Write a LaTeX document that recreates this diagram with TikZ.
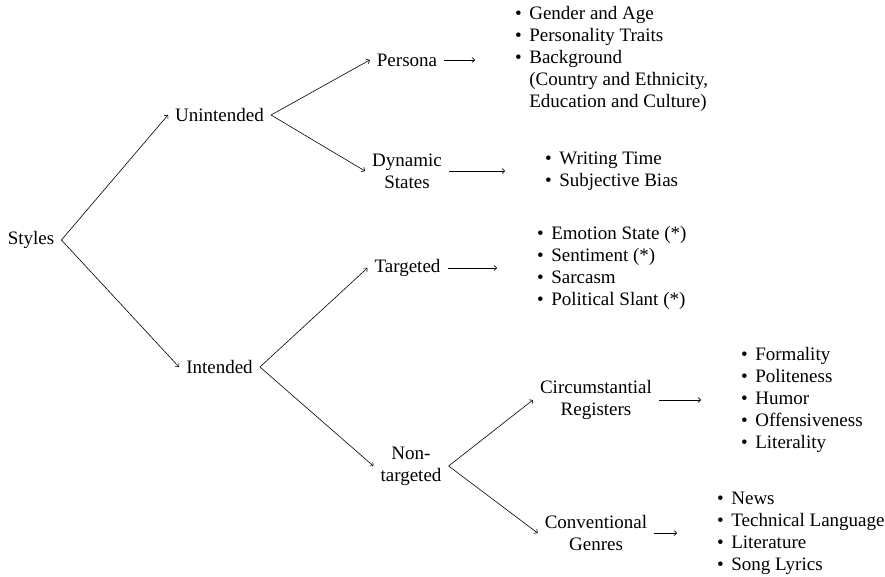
\documentclass[tikz,border=0pt]{standalone}
\usepackage{fontspec}
\setmainfont{Liberation Serif}
\usetikzlibrary{arrows.meta}
\begin{document}
\begin{tikzpicture}[x=1pt,y=-1pt,
  every node/.style={font=\fontsize{19}{22.2}\selectfont},
  cat/.style={inner xsep=7pt, inner ysep=2pt, align=center},
  lst/.style={inner sep=0pt, anchor=west},
  edge/.style={line width=0.6pt, -{To[length=3.2pt,width=5.5pt]}},
  harrow/.style={edge, shorten >=40pt}]
\useasboundingbox (0,0) rectangle (885,576);
% category nodes
\node[cat] (Styles) at (31,240) {Styles};
\node[cat] (Unint) at (219.5,115) {Unintended};
\node[cat] (Int) at (219.5,367) {Intended};
\node[cat] (Persona) at (407,60) {Persona};
\node[cat] (Dyn) at (407,171) {Dynamic\\States};
\node[cat] (Targ) at (407.5,268) {Targeted};
\node[cat] (Non) at (411,466) {Non-\\targeted};
\node[cat] (Circ) at (596,400) {Circumstantial\\Registers};
\node[cat] (Conv) at (596,533) {Conventional\\Genres};
% lists
\node[lst] (PL) at (515,59) {\begin{tabular}{@{}l@{\hspace{7.5pt}}l@{}}
\textbullet & Gender and Age\\
\textbullet & Personality Traits\\
\textbullet & Background\\
 & (Country and Ethnicity,\\
 & Education and Culture)
\end{tabular}};
\node[lst] (DL) at (545,171) {\begin{tabular}{@{}l@{\hspace{7.5pt}}l@{}}
\textbullet & Writing Time\\
\textbullet & Subjective Bias
\end{tabular}};
\node[lst] (TL) at (537,268) {\begin{tabular}{@{}l@{\hspace{7.5pt}}l@{}}
\textbullet & Emotion State (*)\\
\textbullet & Sentiment (*)\\
\textbullet & Sarcasm\\
\textbullet & Political Slant (*)
\end{tabular}};
\node[lst] (CL) at (741,400) {\begin{tabular}{@{}l@{\hspace{7.5pt}}l@{}}
\textbullet & Formality\\
\textbullet & Politeness\\
\textbullet & Humor\\
\textbullet & Offensiveness\\
\textbullet & Literality
\end{tabular}};
\node[lst] (GL) at (717,533) {\begin{tabular}{@{}l@{\hspace{7.5pt}}l@{}}
\textbullet & News\\
\textbullet & Technical Language\\
\textbullet & Literature\\
\textbullet & Song Lyrics
\end{tabular}};
% tree edges
\draw[edge] (Styles.east) -- (Unint.west);
\draw[edge] (Styles.east) -- (Int.west);
\draw[edge] (Unint.east) -- (Persona.west);
\draw[edge] (Unint.east) -- (Dyn.west);
\draw[edge] (Int.east) -- (Targ.west);
\draw[edge] (Int.east) -- (Non.west);
\draw[edge] (Non.east) -- (Circ.west);
\draw[edge] (Non.east) -- (Conv.west);
% horizontal arrows to lists
\draw[harrow] (Persona.east) -- (Persona.east -| PL.west);
\draw[harrow] (Dyn.east) -- (Dyn.east -| DL.west);
\draw[harrow] (Targ.east) -- (Targ.east -| TL.west);
\draw[harrow] (Circ.east) -- (Circ.east -| CL.west);
\draw[harrow] (Conv.east) -- (Conv.east -| GL.west);
\end{tikzpicture}
\end{document}
